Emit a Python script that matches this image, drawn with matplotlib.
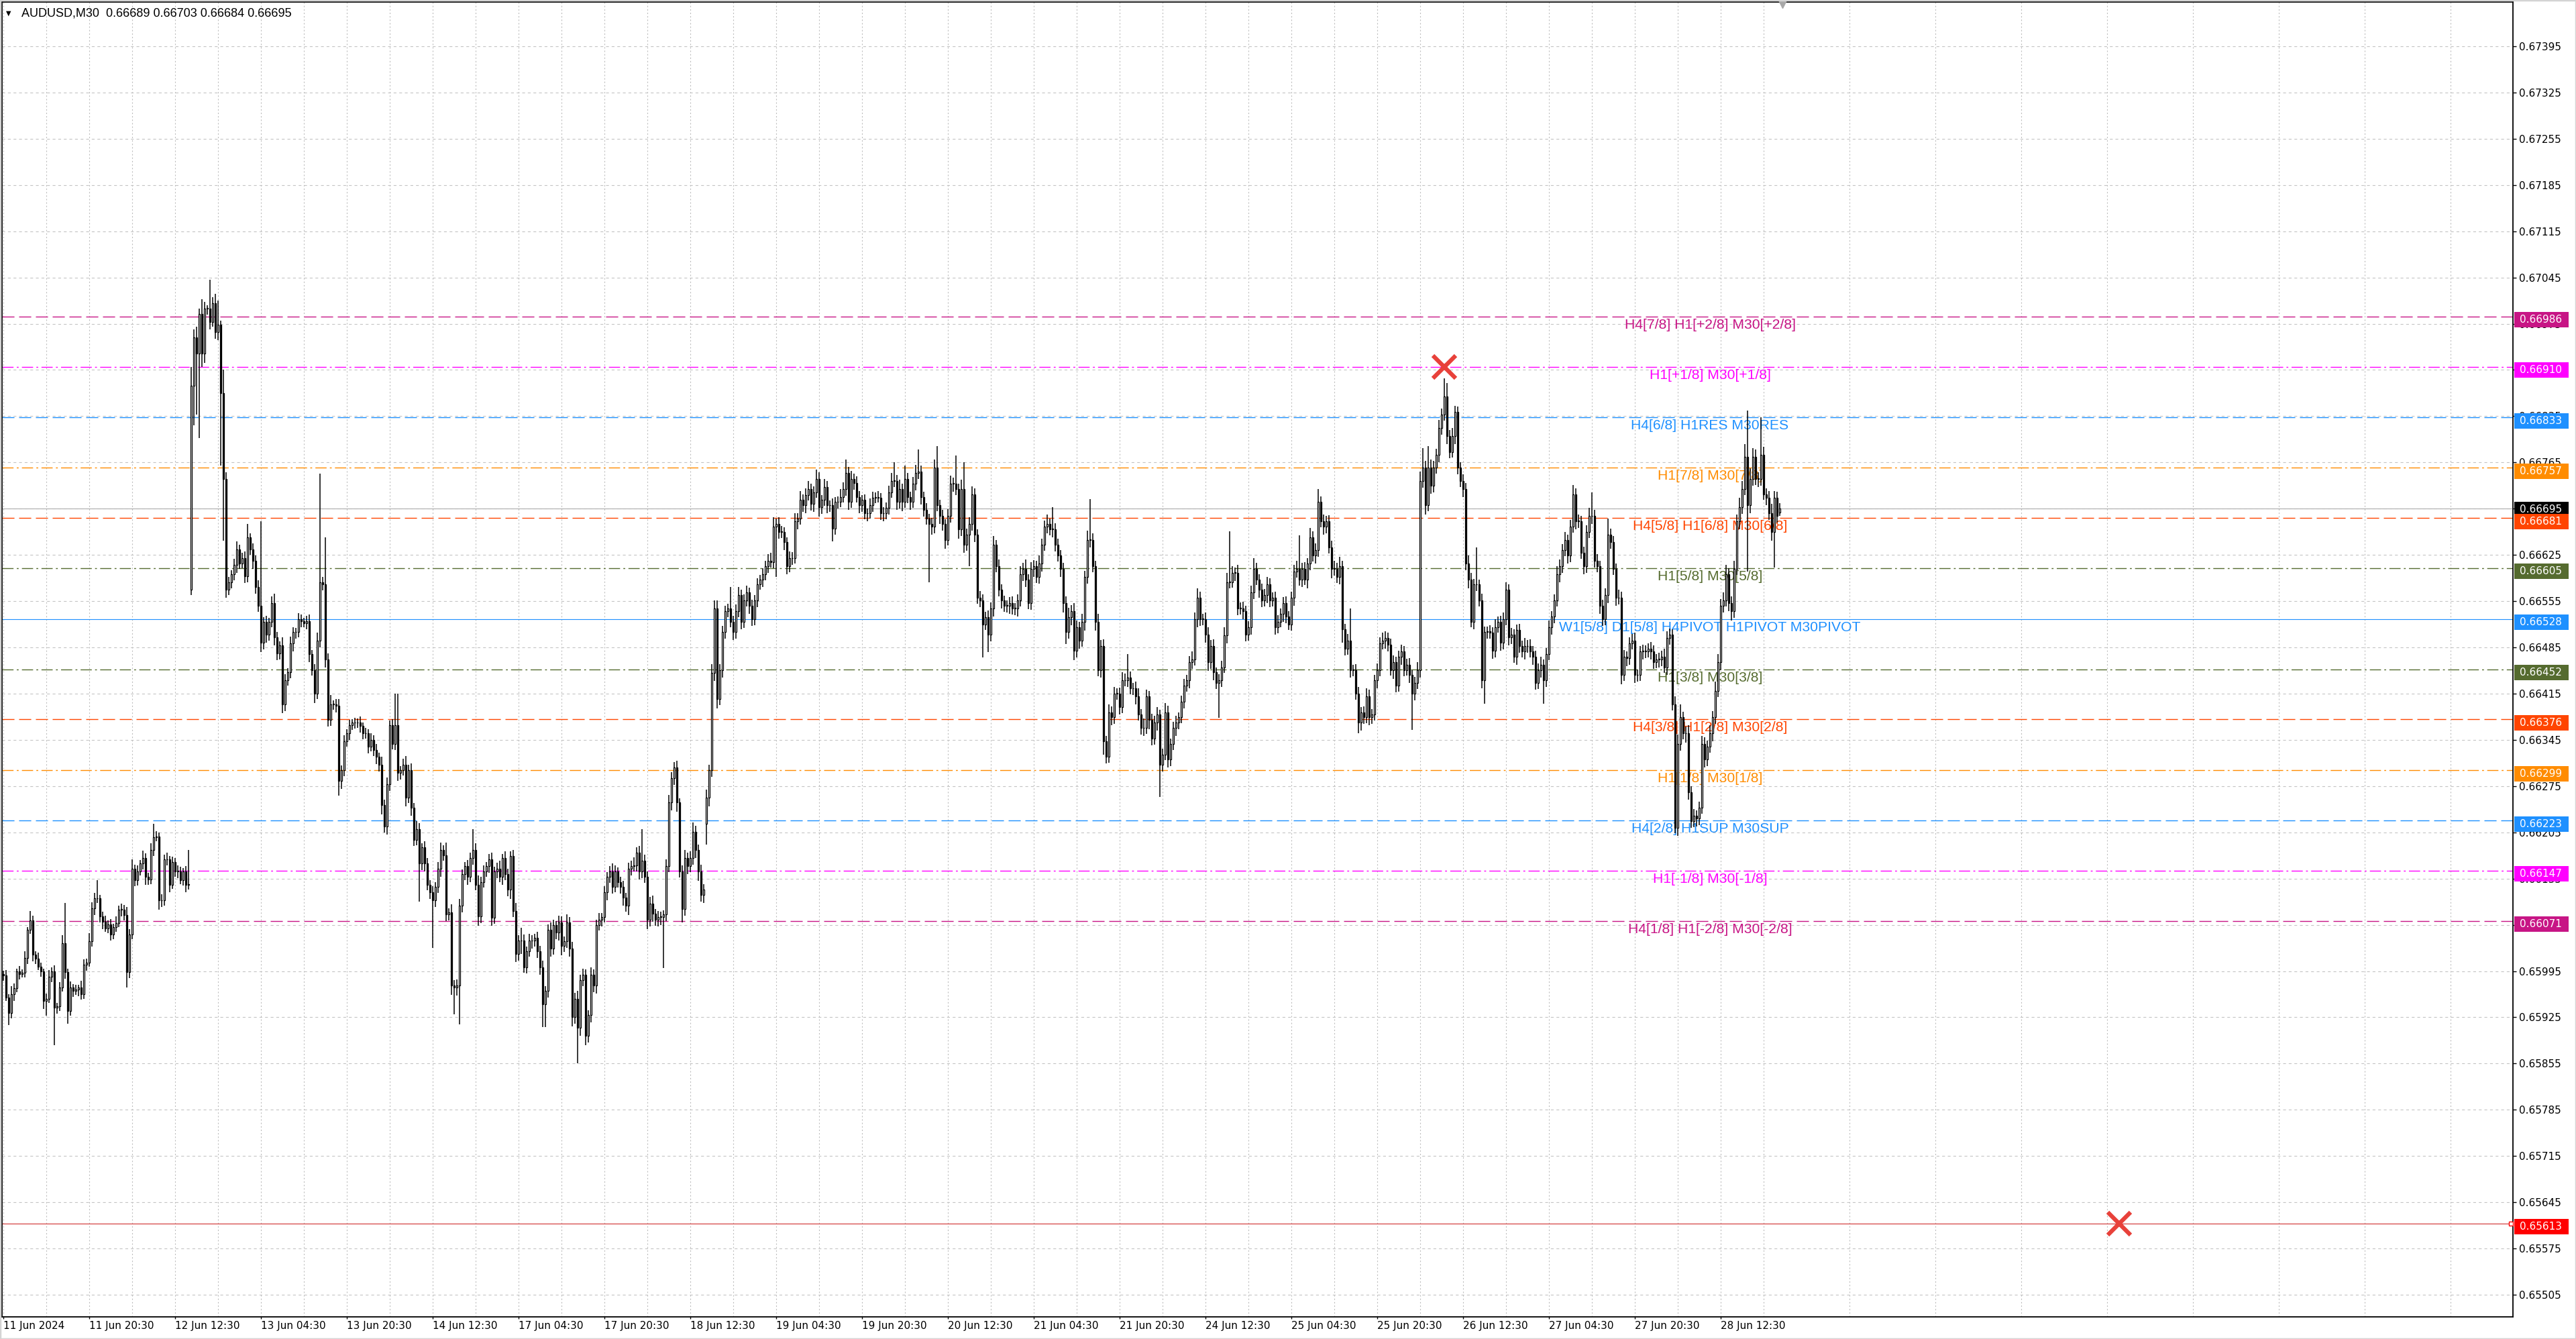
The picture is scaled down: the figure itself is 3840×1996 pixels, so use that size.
import numpy as np
import matplotlib.pyplot as plt
import matplotlib.transforms as mtransforms
from matplotlib.patches import Rectangle
from matplotlib import font_manager

# AUDUSD M30 candles, prices stored as 1e-5 above 0.66000
closes = [
    -12, -45, -68, -40, -31, -5, -10, -8, 15, 57, 72, 20, 14, 2, -5, -50, -47, -14, -5, -60,
    -58, -30, 37, -7, -65, -30, -35, -33, -30, -40, 5, 8, 40, 90, 105, 105, 78, 70, 60, 66,
    50, 62, 68, 88, 88, 80, -7, 50, 150, 133, 146, 158, 166, 138, 134, 178, 198, 199, 102, 102,
    164, 164, 126, 160, 146, 146, 133, 146, 126, 127, 881, 954, 930, 990, 930, 998, 998, 978, 1006, 962,
    974, 870, 740, 572, 584, 596, 610, 633, 612, 620, 593, 652, 633, 616, 576, 548, 492, 524, 504, 524,
    552, 500, 476, 488, 399, 435, 447, 491, 508, 508, 528, 525, 522, 525, 475, 451, 415, 495, 584, 580,
    467, 375, 399, 399, 397, 283, 299, 343, 355, 367, 371, 371, 371, 366, 355, 355, 335, 345, 330, 320,
    307, 246, 214, 278, 367, 339, 367, 295, 299, 307, 258, 299, 242, 194, 210, 158, 182, 158, 126, 114,
    102, 122, 150, 178, 170, 81, 84, -27, -30, -27, 94, 142, 154, 138, 166, 178, 126, 78, 130, 146,
    154, 164, 76, 146, 150, 138, 166, 142, 118, 169, 86, 21, 41, 41, 1, 25, 41, 41, 45, 25,
    1, -55, -35, 57, 29, 65, 53, 69, 33, 40, 69, 29, -75, -47, -91, -19, -11, -103, -71, -11,
    -27, 65, 73, 77, 114, 138, 146, 122, 146, 130, 122, 106, 94, 150, 154, 155, 174, 146, 162, 138,
    73, 97, 82, 73, 77, 77, 81, 154, 250, 287, 303, 250, 146, 89, 166, 154, 166, 206, 178, 146,
    110, 118, 258, 299, 446, 544, 407, 451, 508, 540, 544, 524, 508, 540, 564, 524, 556, 568, 548, 528,
    556, 580, 588, 596, 608, 616, 614, 668, 672, 660, 660, 644, 608, 620, 620, 676, 680, 708, 700, 716,
    725, 702, 720, 740, 697, 708, 728, 700, 700, 665, 705, 705, 713, 725, 749, 705, 740, 734, 713, 700,
    708, 688, 688, 700, 712, 712, 712, 688, 688, 696, 720, 737, 737, 705, 725, 705, 740, 713, 705, 733,
    749, 751, 713, 693, 680, 672, 668, 757, 700, 684, 672, 648, 684, 733, 733, 725, 664, 725, 640, 656,
    672, 717, 656, 560, 556, 520, 531, 504, 544, 640, 608, 572, 556, 548, 548, 552, 544, 544, 556, 596,
    604, 588, 552, 604, 608, 592, 612, 640, 668, 672, 664, 664, 640, 624, 604, 552, 508, 531, 540, 480,
    516, 495, 524, 592, 648, 648, 608, 524, 451, 487, 343, 319, 387, 379, 415, 415, 395, 435, 435, 439,
    423, 423, 411, 383, 363, 363, 411, 375, 347, 371, 383, 307, 323, 387, 315, 339, 363, 371, 379, 403,
    427, 435, 463, 467, 528, 560, 528, 528, 504, 463, 487, 447, 431, 435, 455, 503, 584, 584, 598, 598,
    544, 544, 540, 504, 516, 568, 604, 588, 572, 556, 564, 580, 556, 560, 516, 524, 536, 552, 532, 520,
    560, 600, 604, 588, 604, 588, 612, 652, 624, 632, 705, 676, 668, 676, 636, 604, 604, 592, 608, 512,
    483, 495, 451, 451, 415, 371, 387, 379, 411, 379, 383, 435, 451, 491, 495, 499, 489, 451, 463, 427,
    471, 479, 451, 459, 443, 415, 431, 451, 737, 757, 700, 757, 730, 757, 777, 817, 837, 865, 805, 781,
    805, 841, 757, 737, 725, 612, 588, 524, 580, 580, 556, 435, 508, 509, 507, 480, 516, 524, 492, 528,
    572, 500, 504, 471, 511, 487, 479, 487, 487, 479, 471, 431, 451, 459, 435, 475, 516, 532, 556, 596,
    608, 632, 648, 624, 668, 717, 676, 676, 628, 608, 660, 684, 684, 616, 608, 548, 528, 564, 656, 644,
    604, 560, 560, 443, 471, 469, 491, 495, 443, 443, 479, 479, 479, 483, 479, 463, 467, 467, 471, 455,
    499, 504, 399, 212, 339, 379, 355, 355, 266, 222, 230, 226, 242, 339, 315, 335, 355, 379, 419, 463,
    548, 556, 596, 552, 540, 604, 676, 697, 725, 773, 700, 740, 773, 740, 740, 777, 717, 712, 688, 660,
    712, 684, 695,
]
up_wick = [
    6, 9, 5, 12, 7, 4, 8, 6, 10, 5, 14, 7, 5, 9, 6, 4, 8, 11, 6, 9,
    5, 8, 12, 61, 6, 9, 5, 7, 4, 10, 8, 6, 12, 9, 8, 28, 5, 7, 9, 6,
    8, 5, 10, 6, 9, 7, 12, 8, 14, 6, 9, 5, 11, 7, 6, 10, 20, 8, 6, 9,
    7, 10, 5, 8, 6, 9, 7, 5, 8, 51, 29, 12, 16, 8, 22, 10, 5, 44, 9, 14,
    36, 6, 35, 10, 8, 6, 9, 12, 7, 8, 10, 20, 6, 9, 8, 11, 128, 7, 9, 6,
    10, 14, 8, 6, 12, 9, 7, 10, 8, 6, 9, 7, 5, 8, 10, 6, 9, 12, 164, 8,
    72, 9, 14, 6, 8, 10, 7, 9, 6, 8, 5, 7, 6, 9, 5, 8, 6, 10, 7, 9,
    6, 12, 8, 10, 7, 9, 48, 48, 6, 9, 14, 8, 10, 7, 12, 9, 6, 10, 8, 7,
    9, 8, 10, 12, 7, 20, 6, 12, 8, 9, 10, 7, 6, 9, 8, 32, 10, 14, 8, 9,
    6, 8, 10, 7, 9, 12, 6, 10, 8, 7, 9, 12, 8, 20, 9, 7, 10, 8, 6, 9,
    8, 10, 7, 9, 12, 8, 6, 10, 9, 7, 12, 8, 10, 9, 12, 8, 10, 9, 7, 12,
    9, 8, 10, 6, 9, 7, 8, 12, 9, 6, 8, 10, 7, 9, 8, 12, 8, 10, 48, 9,
    8, 10, 12, 7, 9, 8, 6, 10, 12, 9, 8, 10, 7, 9, 12, 8, 10, 14, 9, 8,
    10, 9, 12, 8, 14, 12, 12, 9, 10, 8, 7, 32, 9, 10, 12, 8, 9, 10, 7, 9,
    8, 10, 7, 9, 8, 10, 12, 14, 8, 10, 9, 7, 8, 10, 9, 12, 8, 14, 9, 10,
    12, 8, 9, 14, 10, 8, 12, 9, 7, 10, 8, 9, 12, 10, 20, 9, 12, 8, 10, 9,
    8, 9, 7, 10, 9, 8, 10, 7, 9, 8, 10, 12, 28, 9, 14, 8, 20, 9, 8, 10,
    12, 34, 9, 8, 10, 7, 9, 12, 33, 8, 9, 7, 10, 12, 9, 42, 8, 14, 40, 9,
    10, 12, 9, 8, 10, 9, 8, 10, 9, 14, 8, 10, 9, 7, 8, 9, 10, 8, 9, 12,
    9, 14, 8, 10, 9, 8, 12, 10, 9, 14, 8, 33, 9, 10, 8, 9, 10, 14, 9, 12,
    10, 8, 12, 9, 14, 61, 10, 8, 12, 9, 10, 8, 12, 9, 10, 8, 9, 12, 10, 36,
    9, 8, 10, 12, 9, 14, 10, 8, 9, 10, 12, 8, 9, 14, 10, 8, 9, 10, 8, 9,
    10, 8, 9, 12, 10, 14, 9, 8, 10, 12, 9, 10, 8, 9, 10, 12, 14, 77, 10, 8,
    12, 9, 10, 8, 9, 10, 16, 9, 8, 10, 9, 12, 10, 8, 9, 10, 8, 9, 10, 8,
    9, 10, 12, 51, 9, 10, 8, 14, 9, 10, 20, 9, 10, 8, 9, 10, 12, 9, 14, 8,
    9, 10, 49, 8, 9, 10, 8, 9, 12, 10, 9, 8, 10, 9, 12, 10, 8, 9, 10, 8,
    9, 10, 8, 9, 10, 8, 9, 12, 14, 30, 10, 33, 12, 10, 9, 12, 10, 27, 20, 9,
    12, 10, 9, 8, 10, 9, 12, 10, 9, 56, 8, 10, 9, 8, 10, 9, 12, 8, 9, 10,
    12, 9, 10, 8, 9, 10, 8, 12, 9, 10, 8, 9, 10, 12, 8, 9, 10, 8, 9, 12,
    10, 9, 12, 8, 10, 14, 9, 10, 8, 9, 10, 12, 36, 9, 10, 8, 9, 10, 24, 9,
    10, 8, 12, 9, 10, 8, 9, 10, 12, 9, 8, 10, 9, 8, 10, 9, 8, 10, 9, 12,
    10, 9, 8, 12, 14, 20, 9, 10, 12, 9, 10, 8, 9, 12, 10, 9, 12, 10, 14, 12,
    10, 12, 14, 9, 10, 12, 10, 14, 12, 20, 71, 16, 14, 12, 10, 56, 12, 9, 10, 14,
    10, 9, 8,
]
down_wick = [
    8, 5, 19, 9, 10, 6, 8, 5, 7, 9, 6, 10, 8, 5, 9, 12, 23, 6, 8, 57,
    9, 7, 6, 10, 20, 8, 9, 6, 10, 8, 7, 9, 6, 8, 10, 7, 9, 12, 6, 8,
    9, 7, 8, 6, 10, 8, 23, 9, 7, 10, 8, 6, 9, 12, 8, 7, 9, 6, 14, 10,
    8, 9, 12, 7, 8, 10, 6, 9, 12, 8, 8, 60, 93, 128, 20, 14, 9, 12, 8, 10,
    12, 110, 94, 12, 8, 10, 9, 12, 8, 7, 10, 9, 8, 12, 10, 9, 14, 10, 12, 9,
    8, 12, 10, 9, 14, 10, 8, 9, 12, 10, 8, 9, 7, 10, 12, 9, 14, 8, 10, 9,
    12, 10, 9, 8, 10, 22, 12, 9, 8, 10, 7, 9, 8, 10, 9, 8, 10, 7, 9, 12,
    10, 14, 9, 12, 10, 8, 9, 12, 10, 8, 14, 9, 12, 10, 9, 58, 10, 12, 9, 10,
    72, 10, 9, 12, 8, 10, 9, 14, 40, 12, 59, 10, 9, 12, 8, 10, 9, 14, 10, 9,
    8, 10, 12, 9, 10, 8, 12, 9, 10, 14, 9, 12, 10, 20, 9, 10, 8, 12, 9, 10,
    12, 35, 35, 10, 12, 9, 10, 12, 14, 9, 10, 12, 14, 10, 54, 12, 9, 14, 10, 12,
    10, 12, 9, 10, 8, 12, 9, 10, 8, 9, 10, 12, 9, 14, 10, 8, 9, 12, 10, 9,
    14, 10, 12, 9, 10, 12, 77, 10, 9, 12, 10, 14, 9, 20, 10, 12, 9, 10, 12, 14,
    10, 12, 32, 14, 10, 12, 14, 9, 12, 10, 9, 8, 12, 10, 9, 12, 10, 9, 12, 10,
    9, 10, 8, 12, 9, 10, 8, 9, 76, 10, 9, 12, 12, 9, 10, 8, 12, 9, 10, 12,
    9, 10, 12, 9, 14, 10, 9, 12, 10, 20, 9, 10, 8, 9, 10, 12, 9, 10, 9, 12,
    10, 9, 12, 8, 10, 9, 8, 10, 12, 9, 10, 8, 9, 12, 10, 14, 9, 10, 12, 9,
    10, 9, 12, 10, 9, 88, 12, 10, 9, 12, 10, 14, 9, 10, 12, 9, 14, 10, 12, 9,
    48, 10, 12, 9, 10, 50, 9, 26, 10, 12, 9, 10, 12, 9, 10, 12, 9, 10, 12, 9,
    10, 12, 9, 10, 12, 9, 10, 12, 9, 10, 9, 12, 10, 9, 12, 14, 18, 10, 12, 14,
    10, 12, 9, 14, 10, 12, 9, 14, 10, 12, 20, 10, 9, 12, 10, 9, 12, 10, 9, 10,
    9, 10, 12, 9, 10, 12, 9, 14, 10, 9, 12, 48, 10, 9, 12, 10, 9, 12, 10, 9,
    10, 9, 12, 10, 9, 12, 10, 9, 12, 14, 10, 12, 9, 53, 10, 9, 12, 10, 9, 12,
    10, 9, 12, 10, 9, 12, 10, 9, 12, 10, 9, 12, 10, 9, 12, 10, 9, 12, 10, 9,
    10, 12, 9, 10, 12, 9, 14, 10, 9, 12, 10, 9, 12, 10, 9, 14, 10, 9, 12, 20,
    10, 9, 12, 10, 9, 16, 12, 10, 9, 12, 10, 9, 12, 10, 9, 12, 10, 9, 14, 10,
    9, 12, 10, 9, 12, 55, 10, 9, 12, 10, 14, 9, 12, 10, 9, 12, 10, 9, 12, 10,
    9, 12, 10, 9, 12, 10, 14, 9, 12, 10, 9, 12, 35, 10, 9, 12, 10, 9, 12, 10,
    9, 12, 10, 9, 12, 10, 9, 12, 10, 9, 12, 10, 9, 12, 35, 10, 9, 12, 10, 9,
    12, 10, 9, 12, 10, 9, 12, 10, 9, 12, 10, 9, 12, 10, 9, 12, 10, 9, 12, 10,
    9, 12, 10, 14, 9, 12, 10, 9, 12, 10, 9, 12, 10, 9, 12, 10, 9, 12, 10, 9,
    12, 10, 9, 8, 12, 10, 9, 14, 12, 10, 9, 12, 10, 9, 12, 10, 9, 12, 10, 9,
    12, 10, 9, 12, 14, 10, 9, 12, 10, 9, 100, 12, 10, 9, 12, 10, 9, 12, 10, 14,
    54, 10, 5,
]
first_open = -10
gap_bars = [70, 262, 662]
gap_opens = [572, 218, 689]

# Murrey-math style levels drawn by the indicator
levels = [0.66986, 0.66910, 0.66833, 0.66757, 0.66681, 0.66605, 0.66528,
          0.66452, 0.66376, 0.66299, 0.66223, 0.66147, 0.66071]
level_colors = ['#C71585', '#FF00FF', '#1E90FF', '#FF8C00', '#FF4500', '#556B2F', '#1E90FF',
                '#556B2F', '#FF4500', '#FF8C00', '#1E90FF', '#FF00FF', '#C71585']
level_kinds = ['dash', 'dashdot', 'dash', 'dashdot', 'dash', 'dashdot', 'solid',
               'dashdot', 'dash', 'dashdot', 'dash', 'dashdot', 'dash']
level_labels = ['H4[7/8] H1[+2/8] M30[+2/8]', 'H1[+1/8] M30[+1/8]', 'H4[6/8] H1RES M30RES',
                'H1[7/8] M30[7/8]', 'H4[5/8] H1[6/8] M30[6/8]', 'H1[5/8] M30[5/8]',
                'W1[5/8] D1[5/8] H4PIVOT H1PIVOT M30PIVOT', 'H1[3/8] M30[3/8]',
                'H4[3/8] H1[2/8] M30[2/8]', 'H1[1/8] M30[1/8]', 'H4[2/8] H1SUP M30SUP',
                'H1[-1/8] M30[-1/8]', 'H4[1/8] H1[-2/8] M30[-2/8]']
bid_price = 0.66695
target_price = 0.65613
cross_bars = [537, 788.5]
cross_prices = [0.66910, 0.65613]

price_ticks = [0.65505 + 0.0007 * k for k in range(28)]
time_labels = ['11 Jun 2024', '11 Jun 20:30', '12 Jun 12:30', '13 Jun 04:30', '13 Jun 20:30',
               '14 Jun 12:30', '17 Jun 04:30', '17 Jun 20:30', '18 Jun 12:30', '19 Jun 04:30',
               '19 Jun 20:30', '20 Jun 12:30', '21 Jun 04:30', '21 Jun 20:30', '24 Jun 12:30',
               '25 Jun 04:30', '25 Jun 20:30', '26 Jun 12:30', '27 Jun 04:30', '27 Jun 20:30',
               '28 Jun 12:30']
header = 'AUDUSD,M30  0.66689 0.66703 0.66684 0.66695'

assert len(closes) == len(up_wick) == len(down_wick)


def pick_font(names):
    for name in names:
        try:
            font_manager.findfont(font_manager.FontProperties(family=name), fallback_to_default=False)
            return name
        except ValueError:
            pass
    return None


narrow = pick_font(['Liberation Sans Narrow', 'DejaVu Sans Condensed'])
if narrow is None:
    axis_font, axis_size = 'DejaVu Sans', 11
else:
    axis_font, axis_size = narrow, 15.5
arial = pick_font(['Liberation Sans', 'Arial']) or 'DejaVu Sans'

plt.rcParams['lines.scale_dashes'] = False

# ---- build OHLC ----
c = np.array(closes, dtype=float)
o = np.concatenate([[first_open], c[:-1]])
for b, v in zip(gap_bars, gap_opens):
    o[b] = v
h = np.maximum(o, c) + np.array(up_wick)
l = np.minimum(o, c) - np.array(down_wick)
o, h, l, c = [0.66 + a * 1e-5 for a in (o, h, l, c)]
x = np.arange(len(c))

W, H = 3840, 1996
fig = plt.figure(figsize=(W / 100, H / 100), dpi=100)
fig.patch.set_facecolor('white')
ax = fig.add_axes([3 / W, 33 / H, 3743 / W, 1960 / H])
ymin, ymax = 0.654715, 0.674620
ax.set_xlim(-0.5, 935.25)
ax.set_ylim(ymin, ymax)
dpp = (ymax - ymin) / 1960.0  # price per pixel

for sp in ax.spines.values():
    sp.set_color('black')
    sp.set_linewidth(1.3)

# grid
ax.set_axisbelow(True)
ax.set_xticks(np.arange(0, 32 * len(time_labels), 32))
ax.set_xticks(np.arange(16, 936, 32), minor=True)
ax.set_xticklabels(time_labels, family=axis_font, fontsize=axis_size, ha='left')
ax.xaxis.grid(True, which='both', color='#BDBDBD', linestyle=(0, (1.5, 2.2)), linewidth=0.8)
ax.tick_params(axis='x', which='major', length=2.5, width=1, pad=1.5, direction='out')
ax.tick_params(axis='x', which='minor', length=0)

ax.yaxis.tick_right()
ax.set_yticks(price_ticks)
ax.set_yticklabels(['%.5f' % p for p in price_ticks], family=axis_font, fontsize=axis_size)
ax.yaxis.grid(True, color='#C4C4C4', linestyle=(0, (3, 3)), linewidth=0.8)
ax.tick_params(axis='y', length=3.5, width=1, pad=3)

# levels
styles = {'dash': (0, (13, 5)), 'dashdot': (0, (12, 3.5, 2, 3.5)), 'solid': '-'}
off = mtransforms.offset_copy(ax.transData, fig=fig, x=0, y=-3, units='dots')
for lv, col, kind, lab in zip(levels, level_colors, level_kinds, level_labels):
    ax.axhline(lv, color=col, linestyle=styles[kind], linewidth=0.8 if kind == 'solid' else 1.0, zorder=2)
    ax.text(636, lv, lab, color=col, ha='center', va='top', fontsize=15.2, family=arial,
            transform=off, zorder=3)
ax.axhline(bid_price, color='#B4B4B4', linewidth=0.9, zorder=2)
ax.axhline(target_price, color='#D03030', linewidth=0.8, zorder=2)
ax.plot([934.6], [target_price], marker='s', ms=4, mfc='white', mec='#FF0000', mew=1, clip_on=False, zorder=6)

# candles
ax.vlines(x, l, h, color='black', linewidth=1.1, zorder=4)
bull = c >= o
body_lo = np.minimum(o, c)
body_h = np.maximum(np.abs(c - o), dpp * 0.5)
ax.bar(x[bull], body_h[bull], bottom=body_lo[bull], width=0.58, color='white',
       edgecolor='black', linewidth=0.9, zorder=5)
ax.bar(x[~bull], body_h[~bull], bottom=body_lo[~bull], width=0.58, color='black',
       edgecolor='black', linewidth=0.9, zorder=5)

# red crosses
ax.plot(cross_bars, cross_prices, linestyle='none', marker='x', ms=24, mew=4.5,
        color='#E8413A', zorder=7)

# chart shift marker
ax.plot([663], [ymax], marker='v', ms=13, color='#A8A8A8', clip_on=False, zorder=7)

# price boxes on the right scale
blend = mtransforms.blended_transform_factory(fig.transFigure, ax.transData)
box_x0, box_w = 3748 / W, 81 / W


def price_box(price, color, shift):
    y0 = price - (11.5 + shift) * dpp
    fig.add_artist(Rectangle((box_x0, y0), box_w, 23 * dpp, transform=blend,
                             facecolor=color, edgecolor='none', zorder=5))
    fig.text(3756 / W, price - shift * dpp, '%.5f' % price, transform=blend, color='white',
             family=axis_font, fontsize=axis_size, va='center', ha='left', zorder=6)


price_box(bid_price, 'black', 1)
for lv, col in zip(levels, level_colors):
    price_box(lv, col, 5)
price_box(target_price, '#FF0000', 5)

# header
fig.text(9 / W, 1 - 20 / H, '\u25bc', fontsize=7, family='DejaVu Sans', va='center', ha='left')
fig.text(32 / W, 1 - 20 / H, header, fontsize=13, family=arial, va='center', ha='left')

# window border
fig.add_artist(Rectangle((0, 0), 1, 1, transform=fig.transFigure, facecolor='none',
                         edgecolor='#D4D4D4', linewidth=2.5))

fig.savefig('out.png', dpi=100, facecolor='white')
